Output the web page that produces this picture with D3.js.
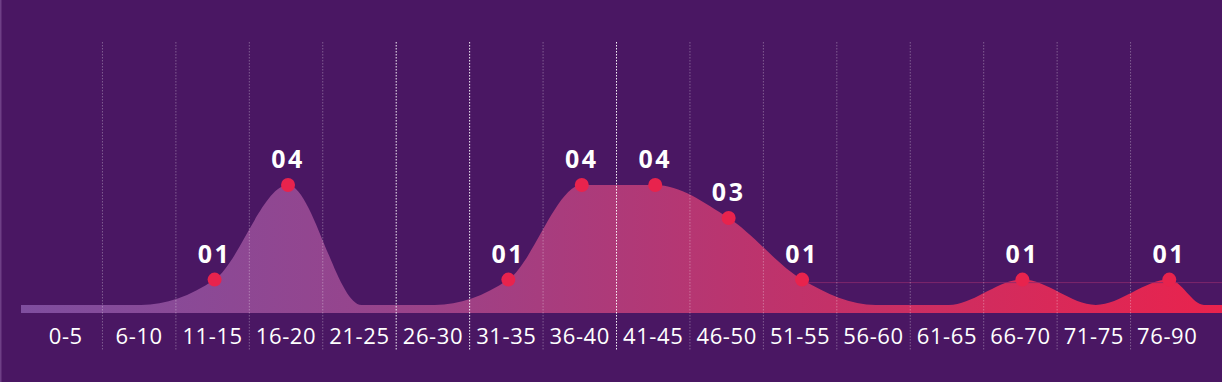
<!DOCTYPE html>
<html>
<head>
<meta charset="utf-8">
<script src="https://cdn.jsdelivr.net/npm/d3@7"></script>
<style>
  html, body { margin: 0; padding: 0; background: #4a1763; }
  svg { display: block; }
</style>
</head>
<body>
<svg id="chart" width="1222" height="382"></svg>
<script>
// ---- data ----
const categories = ["0-5","6-10","11-15","16-20","21-25","26-30","31-35","36-40","41-45","46-50","51-55","56-60","61-65","66-70","71-75","76-90"];
const values     = [0, 0, 1, 4, 0, 0, 1, 4, 4, 3, 1, 0, 0, 1, 0, 1];
const valueLabels = ["", "", "01", "04", "", "", "01", "04", "04", "03", "01", "", "", "01", "", "01"];
const brightGrid = ["26-30", "31-35", "41-45"]; // gridlines drawn brighter (left boundary of these bands)

// ---- layout ----
const W = 1222, H = 382;
const left = 29, right = 1204;
const areaStart = 21, areaEnd = 1222;
const stripBottom = 313;
const svg = d3.select("#chart");

svg.append("rect").attr("width", W).attr("height", H).attr("fill", "#4a1763");
svg.append("rect").attr("x", 0).attr("y", 0).attr("width", 1.5).attr("height", H).attr("fill", "#6e3f86");

const x = d3.scaleBand().domain(categories).range([left, right]);
const cx = c => x(c) + x.bandwidth() / 2 + 2;
const y = d3.scalePow().exponent(1.12).domain([0, 4]).range([305, 185]);

// gradient
const defs = svg.append("defs");
const grad = defs.append("linearGradient").attr("id", "g")
  .attr("gradientUnits", "userSpaceOnUse")
  .attr("x1", areaStart).attr("x2", areaEnd).attr("y1", 0).attr("y2", 0);
grad.append("stop").attr("offset", 0).attr("stop-color", "#7f4e9f");
grad.append("stop").attr("offset", 0.3).attr("stop-color", "#97448c");
grad.append("stop").attr("offset", 0.6).attr("stop-color", "#bb346e");
grad.append("stop").attr("offset", 1).attr("stop-color", "#e9234d");

// area points
const pts = [{x: areaStart, v: 0}]
  .concat(categories.map((c, i) => ({x: cx(c), v: values[i]})))
  .concat([{x: right, v: 0}, {x: areaEnd, v: 0}]);

const area = d3.area()
  .x(d => d.x)
  .y0(stripBottom)
  .y1(d => y(d.v))
  .curve(d3.curveMonotoneX);

svg.append("path").datum(pts).attr("d", area).attr("fill", "url(#g)");

// faint horizontal line
svg.append("line")
  .attr("x1", cx("51-55")).attr("x2", areaEnd)
  .attr("y1", y(1) + 3).attr("y2", y(1) + 3)
  .attr("stroke", "#8a2a6e").attr("stroke-width", 1).attr("opacity", 0.8);

// gridlines (band boundaries)
categories.slice(1).forEach(c => {
  const bright = brightGrid.includes(c);
  svg.append("line")
    .attr("x1", x(c)).attr("x2", x(c))
    .attr("y1", 42).attr("y2", 350)
    .attr("stroke", "#ffffff")
    .attr("stroke-width", 1)
    .attr("stroke-dasharray", "1.5,1.5")
    .attr("opacity", bright ? 0.95 : 0.3);
});

// axis labels
const axis = d3.axisBottom(x).tickSize(0).tickPadding(0);
const gAxis = svg.append("g").attr("transform", `translate(0,${344})`).call(axis);
gAxis.select(".domain").remove();
gAxis.selectAll("text")
  .attr("dy", 0)
  .attr("fill", "#ffffff")
  .attr("font-family", "'Open Sans', sans-serif")
  .attr("font-size", 22)
  .attr("letter-spacing", 0.6)
  .attr("text-anchor", "middle");

// dots + value labels
const marked = categories.map((c, i) => ({c, v: values[i], lab: valueLabels[i]})).filter(d => d.v > 0);
svg.selectAll("circle.dot").data(marked).enter().append("circle")
  .attr("class", "dot")
  .attr("cx", d => cx(d.c)).attr("cy", d => y(d.v)).attr("r", 7)
  .attr("fill", "#e8234d");

svg.selectAll("text.val").data(marked).enter().append("text")
  .attr("class", "val")
  .attr("x", d => cx(d.c)).attr("y", d => y(d.v) - 17)
  .attr("text-anchor", "middle")
  .attr("fill", "#ffffff")
  .attr("font-family", "'Open Sans', sans-serif")
  .attr("font-weight", 700)
  .attr("font-size", 25)
  .attr("letter-spacing", 2.5)
  .text(d => d.lab);
</script>
</body>
</html>
